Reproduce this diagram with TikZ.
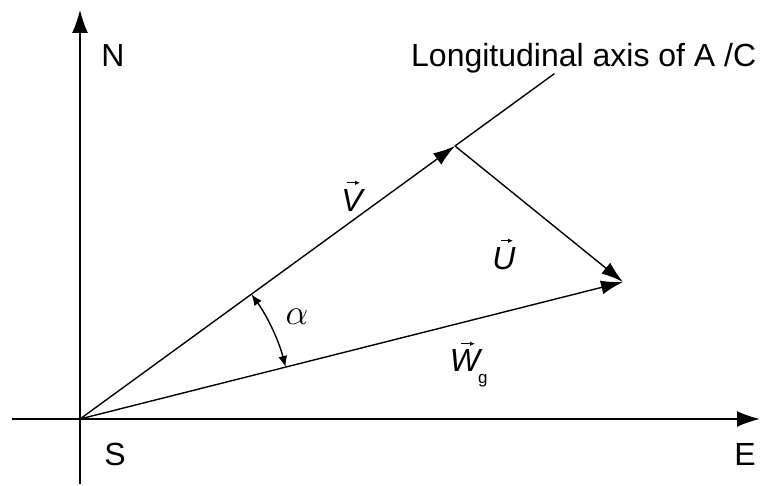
\RequirePackage{fix-cm}
\documentclass[tikz,border=0pt]{standalone}
\usepackage{fontspec}
\setmainfont{Liberation Sans}
\usetikzlibrary{arrows.meta,calc}
\begin{document}
\begin{tikzpicture}[x=1pt,y=1pt,
  lbl/.style={font=\fontsize{32}{40}\selectfont, inner sep=0pt},
  vecline/.style={line width=1.4pt, -{Latex[length=22pt,width=14pt]}},
  axisline/.style={-{Latex[length=23pt,width=16pt]}},
  arcline/.style={line width=1.4pt, {Latex[length=11pt,width=9pt]}-{Latex[length=11pt,width=9pt]}},
  accent/.style={line width=0.9pt, -{Latex[length=5pt,width=4.5pt]}},
]
\useasboundingbox (0,0) rectangle (763,486);
\coordinate (O) at (80,67);
\coordinate (Ntip) at (80,476);
\coordinate (Nbot) at (80,2);
\coordinate (Etip) at (760,67);
\coordinate (Eleft) at (12,67);
\coordinate (Vt) at (455,340);
\coordinate (Ut) at (623,204);
\coordinate (Ax) at ($(O)!1.265!(Vt)$);
% axes
\draw[axisline, line width=1.3pt] (Nbot) -- (Ntip);
\draw[axisline, line width=2pt] (Eleft) -- (Etip);
% longitudinal axis continuation
\draw[line width=1.4pt] (Vt) -- (Ax);
% vectors
\draw[vecline] (O) -- (Vt);
\draw[vecline] (Vt) -- (Ut);
\draw[vecline] (O) -- (Ut);
% angle alpha
\draw[arcline] ($(O)+(14.2:212)$) arc[start angle=14.2, end angle=36, radius=212];
% labels
\node[lbl] (N) at (113,430) {N};
\node[lbl] (S) at (115,32) {S};
\node[lbl] (E) at (745,32) {E};
\node[lbl, anchor=base west] (L) at (411,419) {Longitudinal axis of A /C};
\node[lbl, anchor=base] (Vl) at (352,274) {\itshape V};
\node[lbl, anchor=base] (Ul) at (504,216) {\itshape U};
\node[lbl, anchor=base] (Wl) at (465,114) {\itshape W};
\node[font=\fontsize{17}{20}\selectfont, inner sep=0pt, anchor=base west] (g) at (478,102) {g};
\node[font=\fontsize{36}{40}\selectfont, inner sep=0pt] (al) at (297,169) {$\alpha$};
% vector accents
\draw[accent] ($(Vl.north)+(-5,7)$) -- ++(13,0);
\draw[accent] ($(Ul.north)+(-3,7)$) -- ++(12,0);
\draw[accent] ($(Wl.north)+(-4,6)$) -- ++(14,0);
\end{tikzpicture}
\end{document}
